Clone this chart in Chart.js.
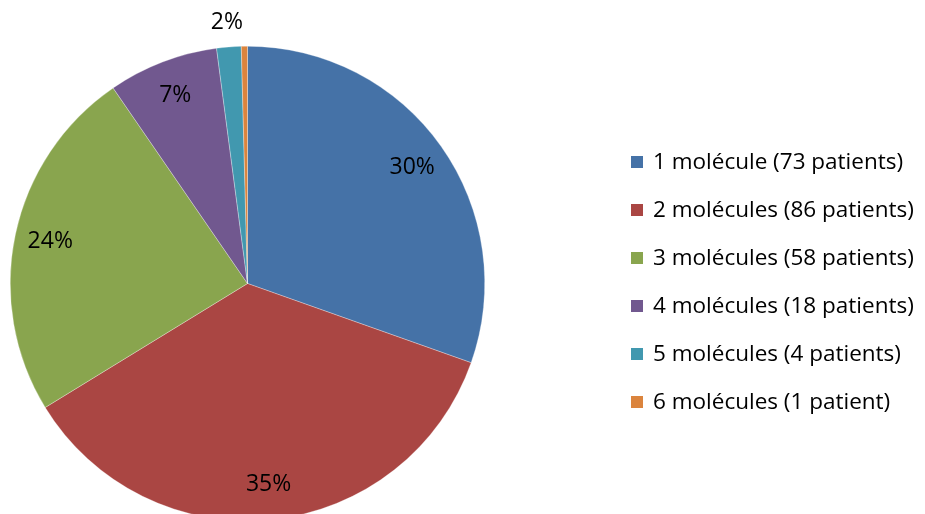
<!DOCTYPE html>
<html><head><meta charset="utf-8">
<script src="https://cdn.jsdelivr.net/npm/chart.js@4"></script>
<style>
html,body{margin:0;padding:0;background:#fff;overflow:hidden;width:925px;height:514px;}
#wrap{position:absolute;left:0;top:0;width:925px;height:560px;}
#legend{position:absolute;left:631px;top:150px;font-family:"Open Sans",sans-serif;font-size:22.5px;color:#000;}
.row{position:absolute;left:0;height:48px;white-space:nowrap;line-height:24px;}
.sw{position:absolute;left:0;top:6px;width:12px;height:12px;}
.tx{position:absolute;left:22px;top:-1px;}
</style></head>
<body>
<div id="wrap"><canvas id="c" width="925" height="560"></canvas></div>
<div id="legend"></div>
<script>
const categories = ["1 molécule (73 patients)","2 molécules (86 patients)","3 molécules (58 patients)","4 molécules (18 patients)","5 molécules (4 patients)","6 molécules (1 patient)"];
const patients = [73, 86, 58, 18, 4, 1];
const percentLabels = ["30%","35%","24%","7%","2%",""];
const colors = ["#4572A7","#AA4643","#89A54E","#71588F","#4198AF","#DB843D"];

const labelPlugin = {
  id:'pctLabels',
  afterDatasetsDraw(chart){
    const ctx = chart.ctx;
    const meta = chart.getDatasetMeta(0);
    ctx.save();
    ctx.font = '23px "Open Sans", sans-serif';
    ctx.fillStyle = '#000';
    ctx.textAlign = 'center';
    ctx.textBaseline = 'middle';
    meta.data.forEach((arc,i)=>{
      const t = percentLabels[i];
      if(!t) return;
      const p = arc.getProps(['x','y','startAngle','endAngle','outerRadius'],true);
      const mid = (p.startAngle+p.endAngle)/2;
      const share = (p.endAngle-p.startAngle)/(2*Math.PI);
      const r = share < 0.03 ? p.outerRadius*1.105 : p.outerRadius*0.85;
      ctx.fillText(t, p.x+Math.cos(mid)*r, p.y+Math.sin(mid)*r);
    });
    ctx.restore();
  }
};

new Chart(document.getElementById('c'),{
  type:'pie',
  data:{labels:categories,datasets:[{data:patients,backgroundColor:colors,borderColor:'rgba(255,255,255,0.6)',borderWidth:0.5}]},
  options:{
    responsive:false,animation:false,
    layout:{padding:{left:10,top:46,right:440,bottom:39}},
    plugins:{legend:{display:false},tooltip:{enabled:false}}
  },
  plugins:[labelPlugin]
});

const lg = document.getElementById('legend');
categories.forEach((c,i)=>{
  const row = document.createElement('div');
  row.className='row';
  row.style.top = (i*48)+'px';
  row.innerHTML = '<span class="sw" style="background:'+colors[i]+'"></span><span class="tx">'+c+'</span>';
  lg.appendChild(row);
});
</script>
</body></html>
